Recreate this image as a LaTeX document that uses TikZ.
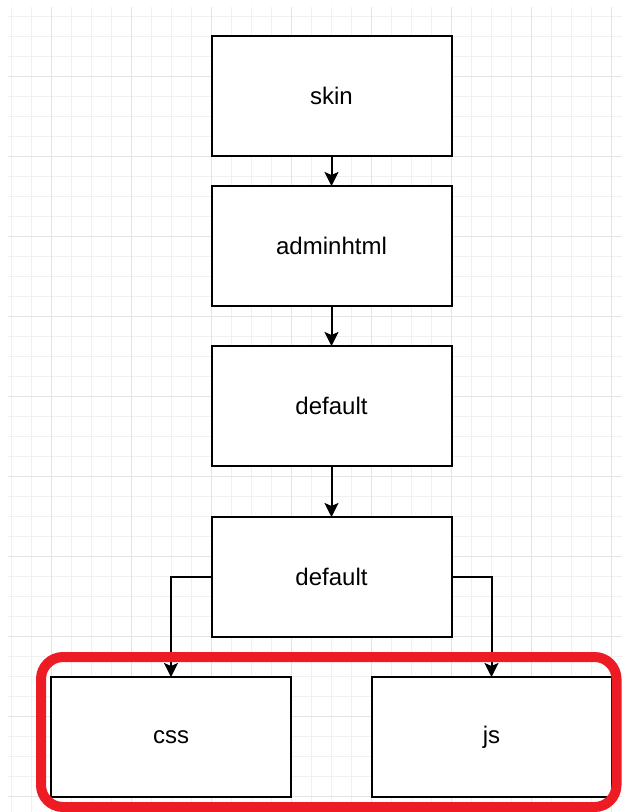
\documentclass[tikz,border=0pt]{standalone}
\usepackage{fontspec}
\setmainfont{Liberation Sans}
\usetikzlibrary{arrows.meta,positioning}
\definecolor{gridfine}{HTML}{F0F0F0}
\definecolor{gridmajor}{HTML}{E4E4E4}
\definecolor{markred}{HTML}{ED1C24}
\tikzset{
  folder/.style={
    draw,rectangle,line width=2pt,outer sep=0pt,fill=white,
    minimum width=240pt,minimum height=120pt,align=center,
    font=\fontsize{24}{28}\selectfont
  },
  link/.style={-{Stealth[length=14pt,width=14pt,inset=3pt]},line width=2pt},
  highlight/.style={draw=markred,line width=10pt,rounded corners=22pt}
}

\begin{document}
\begin{tikzpicture}[x=1pt,y=-1pt,node distance=40pt]

% page and background grid
\useasboundingbox[fill=white] (0,0) rectangle (622,812);
\foreach \gx in {11,31,...,611} \draw[gridfine] (\gx,7) -- (\gx,812);
\foreach \gy in {16,36,...,796} \draw[gridfine] (8,\gy) -- (622,\gy);
\foreach \gx in {51,131,...,611} \draw[gridmajor] (\gx,7) -- (\gx,812);
\foreach \gy in {76,156,...,796} \draw[gridmajor] (8,\gy) -- (622,\gy);

\node[folder] (skin) at (331.5,96) {skin};
\node[folder,below=30pt of skin] (admin) {adminhtml};
\node[folder,below=of admin] (theme) {default};
\node[folder,below=51pt of theme] (pkg) {default};
\node[folder,below=of pkg,xshift=-160.5pt] (css) {css};
\node[folder,below=of pkg,xshift=160pt] (js) {js};

\draw[link] (skin) -- (admin);
\draw[link] (admin) -- (theme);
\draw[link] (theme) -- (pkg);
\draw[link] (pkg.west) -| (css.north);
\draw[link] (pkg.east) -| (js.north);

% red frame round the two leaves
\draw[highlight] ([xshift=-10pt,yshift=20pt]css.north west)
  rectangle ([xshift=5pt,yshift=-10pt]js.south east);

\end{tikzpicture}
\end{document}
